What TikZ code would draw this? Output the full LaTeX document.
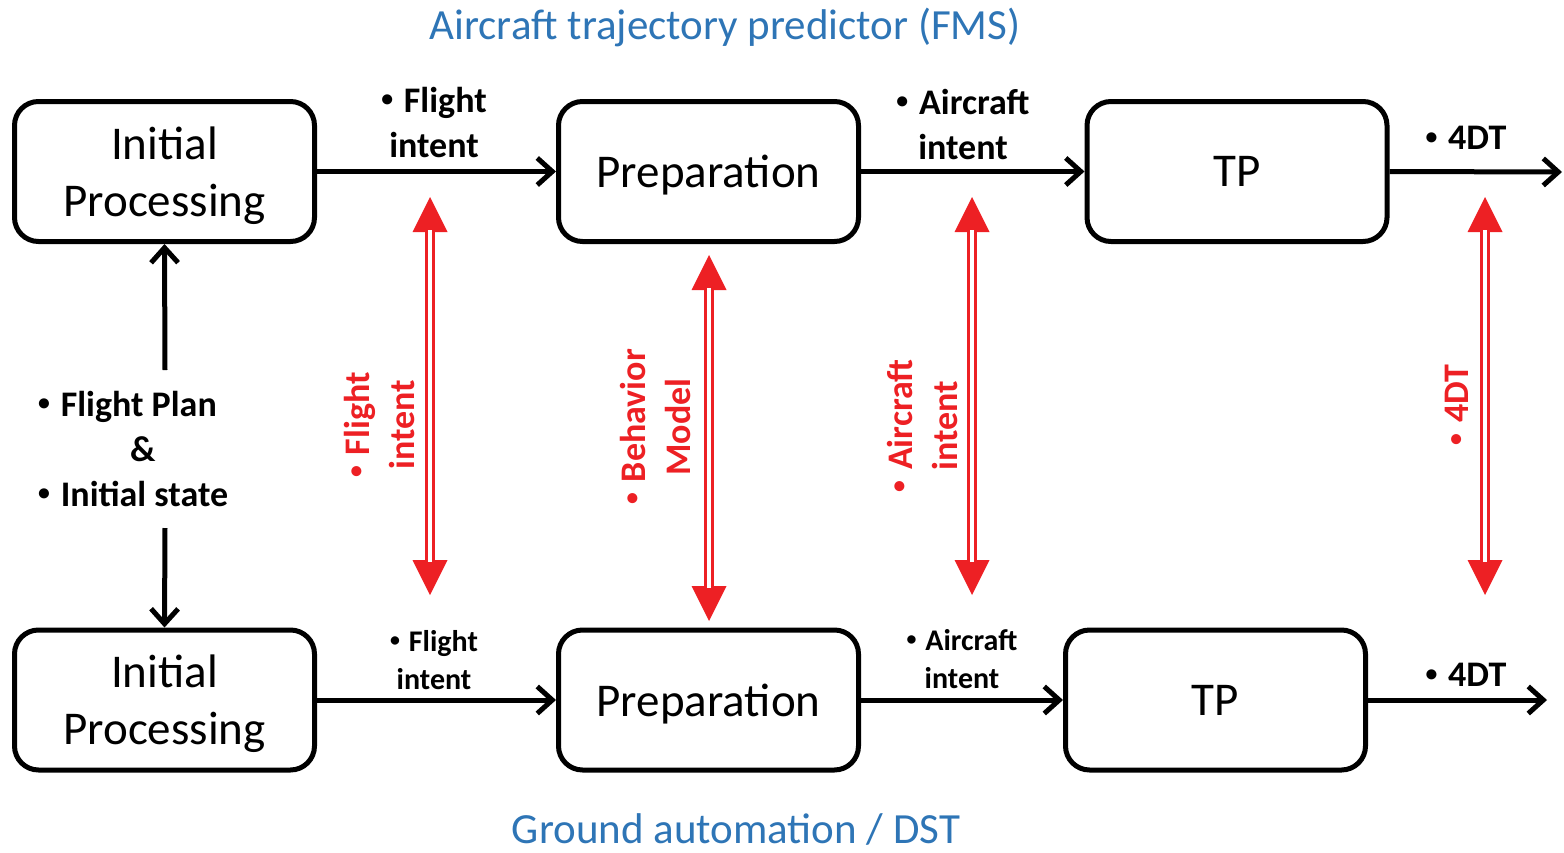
\documentclass[tikz,border=0pt]{standalone}
\usepackage{fontspec}
\usepackage{graphicx}
\setmainfont{Carlito}
\usetikzlibrary{arrows.meta}
\definecolor{tblue}{HTML}{2E75B6}
\definecolor{tred}{HTML}{ED2024}
\newcommand{\bul}{\raisebox{0.16em}{\scalebox{0.66}{•}}\hspace{0.3em}}
\begin{document}
\begin{tikzpicture}[x=1pt,y=-1pt,
  box/.style={draw, line width=5pt, rounded corners=24pt, minimum width=300pt, minimum height=140pt, inner sep=0pt, align=center, text depth=0pt, font=\fontsize{47}{57}\selectfont},
  flow/.style={line width=5pt, -{Straight Barb[length=15pt,width=27pt]}},
  lab/.style={inner sep=0pt, align=center, font=\fontsize{36}{45}\selectfont\bfseries},
  slab/.style={inner sep=0pt, align=center, font=\fontsize{30}{38}\selectfont\bfseries},
  rlab/.style={inner sep=0pt, align=center, rotate=90, text=tred, font=\fontsize{36}{45}\selectfont\bfseries},
  link/.style={tred, line width=10pt, {Triangle[length=35pt,width=35pt,line width=0pt]}-{Triangle[length=35pt,width=35pt,line width=0pt]}},
  gap/.style={white, line width=3.4pt, shorten <=33pt, shorten >=33pt},
  title/.style={text=tblue, inner sep=0pt, font=\fontsize{43}{50}\selectfont}
]
\useasboundingbox (0,0) rectangle (1564,852);

% titles
\node[title, anchor=base] (t1) at (725,39) {Aircraft trajectory predictor (FMS)};
\node[title, anchor=base] (t2) at (736,843) {Ground automation / DST};

% boxes
\node[box] (ip1) at (164.5,171.5) {Initial\\Processing};
\node[box] (prep1) at (708.5,171.5) {Preparation};
\node[box] (tp1) at (1237,171.5) {TP};
\node[box] (ip2) at (164.5,700) {Initial\\Processing};
\node[box] (prep2) at (708.5,700) {Preparation};
\node[box] (tp2) at (1215.5,700) {TP};

% free ends
\coordinate (out1) at (1562,172);
\coordinate (out2) at (1547,700);
\coordinate (fpTop) at (165,370);
\coordinate (fpBot) at (165,528);

% black flows
\draw[flow] (ip1.east) -- (prep1.west);
\draw[flow] (prep1.east) -- (tp1.west);
\draw[flow] (tp1.east) -- (out1);
\draw[flow] (ip2.east) -- (prep2.west);
\draw[flow] (prep2.east) -- (tp2.west);
\draw[flow] (tp2.east) -- (out2);
\draw[flow] (fpTop) -- (ip1.south);
\draw[flow] (fpBot) -- (ip2.north);

% labels
\node[lab, anchor=south] (fi1) at (434,158) {\bul Flight\\intent};
\node[lab, anchor=south] (ai1) at (963,160) {\bul Aircraft\\intent};
\node[lab, anchor=south] (dt1) at (1466,150) {\bul 4DT};
\node[slab, anchor=south] (fi2) at (434,690) {\bul Flight\\intent};
\node[slab, anchor=south] (ai2) at (962,689) {\bul Aircraft\\intent};
\node[lab, anchor=south] (dt2) at (1466,687) {\bul 4DT};
\node[lab, align=left, anchor=south west] (fp) at (38,507) {\bul Flight Plan\\\hspace*{92pt}\&\\\bul Initial state};

% red links
\coordinate (l1a) at (430,197); \coordinate (l1b) at (430,595);
\coordinate (l2a) at (709,255); \coordinate (l2b) at (709,621);
\coordinate (l3a) at (972,197); \coordinate (l3b) at (972,595);
\coordinate (l4a) at (1485,197); \coordinate (l4b) at (1485,595);
\foreach \a/\b in {l1a/l1b,l2a/l2b,l3a/l3b,l4a/l4b}{
  \draw[link] (\a) -- (\b);
  \draw[gap] (\a) -- (\b);
}

\node[rlab] (rl1) at (379,425) {\bul Flight\\intent};
\node[rlab] (rl2) at (655,427) {\bul Behavior\\Model};
\node[rlab] (rl3) at (922,426) {\bul Aircraft\\intent};
\node[rlab] (rl4) at (1457,405) {\bul 4DT};
\end{tikzpicture}
\end{document}
